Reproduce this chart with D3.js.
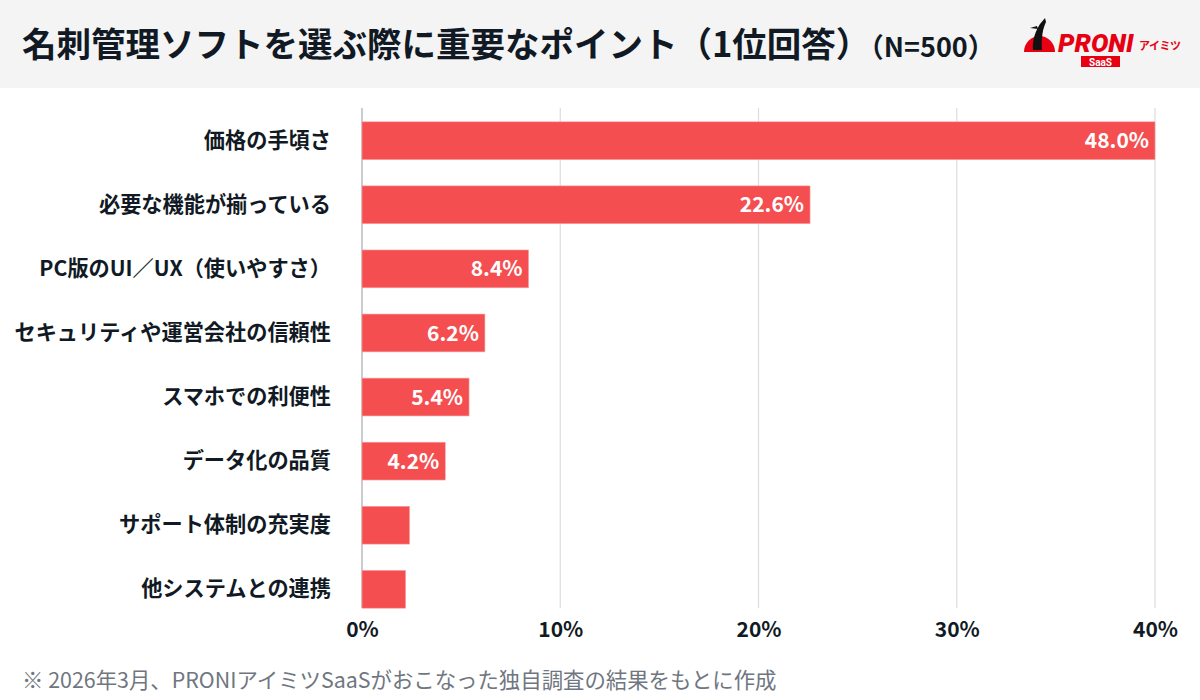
<!DOCTYPE html>
<html><head><meta charset="utf-8">
<script src="https://cdn.jsdelivr.net/npm/d3@7"></script>
<style>
body{margin:0;background:#fff;}
svg{display:block;font-family:"Noto Sans CJK JP","Noto Sans",sans-serif;}
</style></head>
<body><svg id="c" width="1200" height="700"></svg>
<script>
const categories = ["価格の手頃さ","必要な機能が揃っている","PC版のUI／UX（使いやすさ）","セキュリティや運営会社の信頼性","スマホでの利便性","データ化の品質","サポート体制の充実度","他システムとの連携"];
const values = [48.0, 22.6, 8.4, 6.2, 5.4, 4.2, 2.4, 2.2];
const showLabel = [true,true,true,true,true,true,false,false];
const tickValues = [0,10,20,30,40];

const svg = d3.select("#c");
svg.append("rect").attr("x",0).attr("y",0).attr("width",1200).attr("height",88).attr("fill","#f4f4f4");
const t = svg.append("text").attr("x",22).attr("y",57).attr("fill","#111a24").attr("font-weight",700);
t.append("tspan").attr("font-size",34.5).text("名刺管理ソフトを選ぶ際に重要なポイント（1位回答）");
t.append("tspan").attr("font-size",27).text("（N=500）");

// logo
const lg = svg.append("g");
lg.append("path").attr("d","M1024,52 A15.5,16 0 0 1 1055,52 Z").attr("fill","#e60012");
lg.append("path").attr("d","M1033,50 C1032,40 1036,30 1040,24 L1045,18 L1046,22 C1043,28 1041,38 1042,50 Z").attr("fill","#111");
lg.append("path").attr("d","M1037,26 L1030,28 L1038,29 Z").attr("fill","#111");
lg.append("text").attr("x",1058).attr("y",52).attr("font-size",26).attr("font-weight",900).attr("font-style","italic").attr("fill","#e60012").attr("font-family","Roboto, sans-serif").text("PRONI");
lg.append("text").attr("x",1139).attr("y",50).attr("font-size",11).attr("font-weight",700).attr("fill","#e60012").attr("letter-spacing",-0.5).text("アイミツ");
lg.append("rect").attr("x",1081).attr("y",56).attr("width",39).attr("height",11).attr("fill","#e60012");
lg.append("text").attr("x",1100.5).attr("y",65.5).attr("text-anchor","middle").attr("font-size",10).attr("font-weight",700).attr("fill","#fff").attr("font-family","Roboto, sans-serif").text("SaaS");

const x = d3.scaleLinear().domain([0,40]).range([362,1155]);
const y = d3.scaleBand().domain(categories).range([109,621]).paddingInner(0.41).paddingOuter(0.2);

// grid
svg.append("g").selectAll("line").data(tickValues).join("line")
  .attr("x1",d=>x(d)).attr("x2",d=>x(d)).attr("y1",108).attr("y2",608)
  .attr("stroke",d=>d===0?"#aaaaaa":"#dcdcdc").attr("stroke-width",1.2);

// bars
svg.append("g").selectAll("rect").data(values).join("rect")
  .attr("x",x(0)).attr("y",(d,i)=>y(categories[i]))
  .attr("width",d=>x(Math.min(d,40))-x(0)).attr("height",y.bandwidth())
  .attr("fill","#f44e50").attr("stroke","#f8a0a0").attr("stroke-width",0.6);

// value labels
svg.append("g").selectAll("text").data(values).join("text")
  .filter((d,i)=>showLabel[i])
  .attr("x",d=>x(Math.min(d,40))-6).attr("y",(d,i)=>y(categories[i])+y.bandwidth()/2)
  .attr("dy","0.36em").attr("text-anchor","end").attr("fill","#fff").attr("font-size",21).attr("font-weight",700)
  .text(d=>d.toFixed(1)+"%");

// category labels
const ax = svg.append("g").attr("transform","translate(331,0)")
  .call(d3.axisLeft(y).tickSize(0).tickPadding(0));
ax.select(".domain").remove();
ax.selectAll("text").attr("font-size",21.2).attr("font-weight",700).attr("fill","#111a24")
  .attr("font-family","'Noto Sans CJK JP',sans-serif");

// x axis
const xa = svg.append("g").attr("transform","translate(0,615)")
  .call(d3.axisBottom(x).tickValues(tickValues).tickSize(0).tickPadding(7).tickFormat(d=>d+"%"));
xa.select(".domain").remove();
xa.selectAll("text").attr("font-size",21).attr("font-weight",700).attr("fill","#111a24")
  .attr("font-family","'Noto Sans CJK JP',sans-serif");

svg.append("text").attr("x",22).attr("y",688).attr("font-size",21.4).attr("fill","#707680").text("※ 2026年3月、PRONIアイミツSaaSがおこなった独自調査の結果をもとに作成");
</script></body></html>
